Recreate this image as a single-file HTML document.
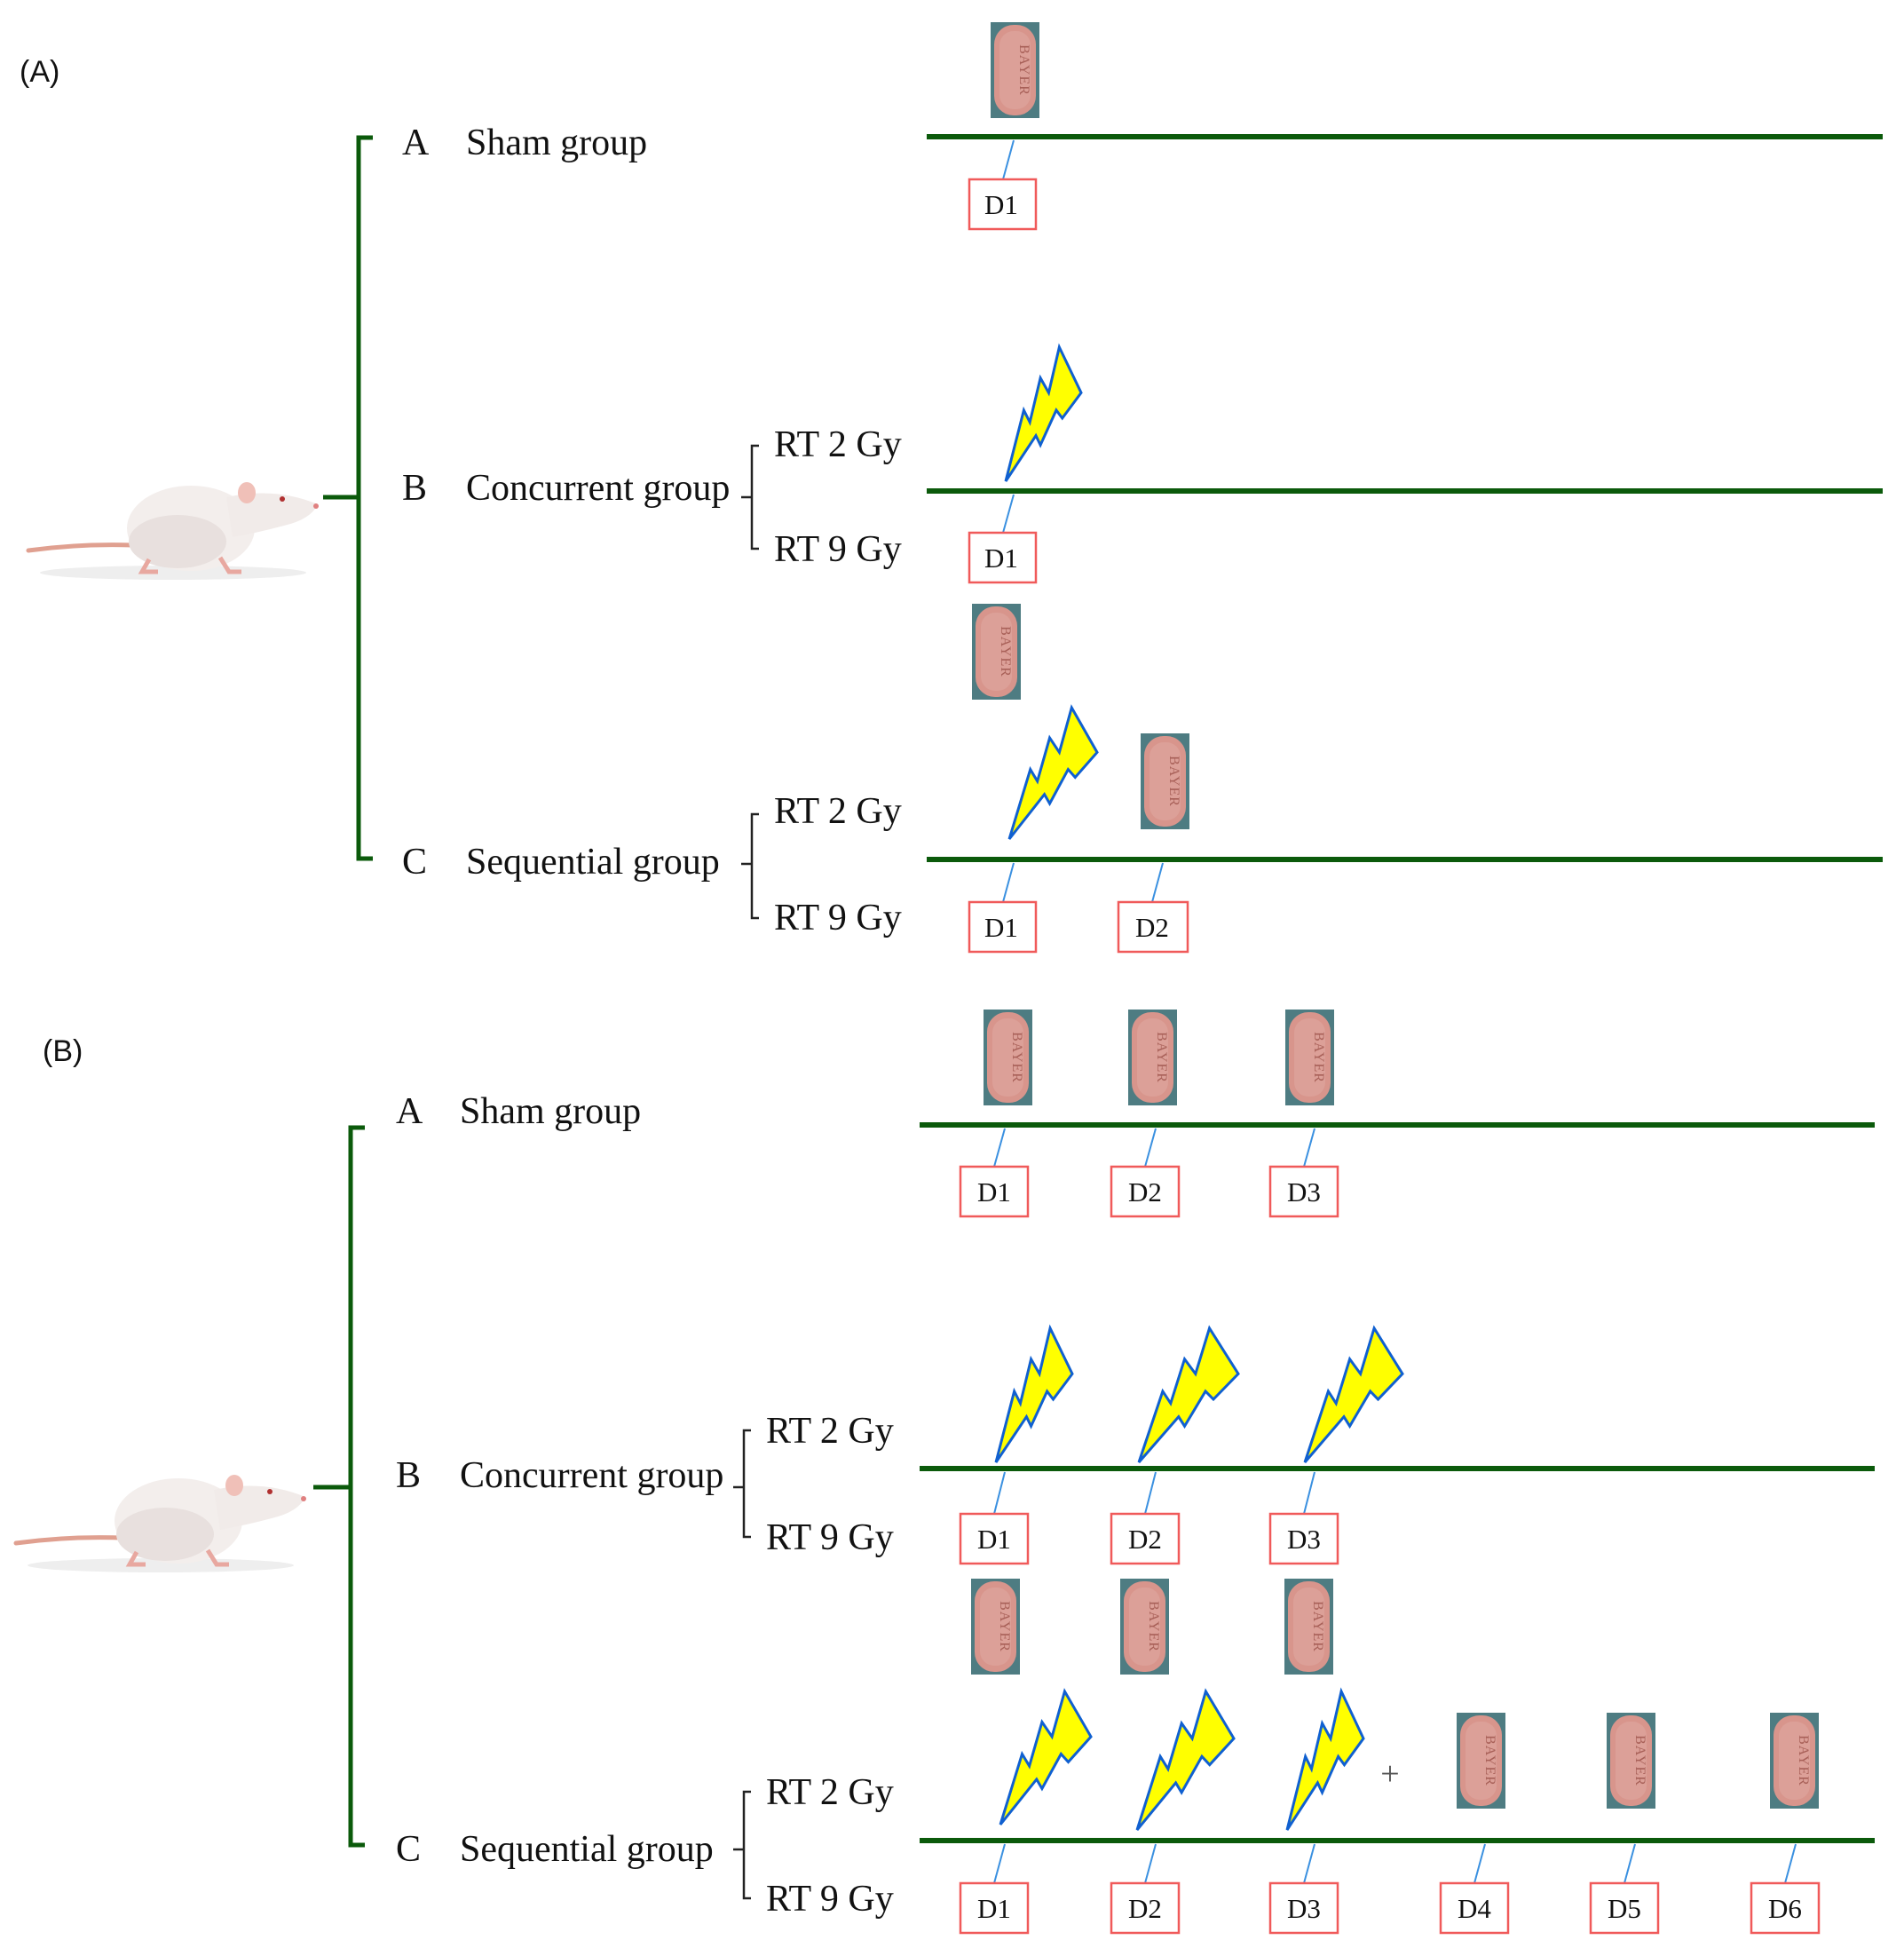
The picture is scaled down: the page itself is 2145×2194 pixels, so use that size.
<!DOCTYPE html>
<html><head><meta charset="utf-8"><style>
html,body{margin:0;padding:0;background:#fff;}
svg{display:block}
text{font-family:"Liberation Serif",serif;fill:#111}
.lbl{font-size:42px}
.dt{font-size:31px}
.pt{font-family:"Liberation Serif",serif;font-size:16px;fill:#a86058;letter-spacing:1px}
</style></head><body>
<svg width="2145" height="2194" viewBox="0 0 2145 2194" xmlns="http://www.w3.org/2000/svg">
<defs>
  <polygon id="bolt" points="0,1 0.24,0.47 0.32,0.56 0.46,0.23 0.57,0.34 0.71,0 1,0.34 0.75,0.53 0.67,0.47 0.46,0.73 0.40,0.66" fill="#ffff00" stroke="#1060d0" stroke-width="3" vector-effect="non-scaling-stroke" stroke-linejoin="miter"/>
  <g id="pill">
    <rect x="0" y="0" width="55" height="108" fill="#4e7c82"/>
    <rect x="4" y="3" width="47" height="102" rx="22" fill="#d8958c"/>
    <rect x="10" y="10" width="35" height="88" rx="16" fill="#dca098"/>
    <text class="pt" transform="translate(33,54) rotate(90)" text-anchor="middle">BAYER</text>
  </g>
  <g id="rat">
    <path d="M32,620 Q90,612 150,614" stroke="#e0a090" stroke-width="5" fill="none" stroke-linecap="round"/>
    <ellipse cx="195" cy="645" rx="150" ry="8" fill="#eee"/>
    <ellipse cx="215" cy="595" rx="72" ry="48" fill="#f3eeec"/>
    <ellipse cx="200" cy="610" rx="55" ry="30" fill="#e8e0de"/>
    <path d="M255,560 Q310,548 358,568 Q350,585 320,592 Q290,600 262,605 Z" fill="#f1ebe9"/>
    <ellipse cx="278" cy="555" rx="10" ry="12" fill="#f0c0b8"/>
    <circle cx="318" cy="562" r="3" fill="#b03030"/>
    <circle cx="356" cy="570" r="3" fill="#e08080"/>
    <path d="M168,630 l-8,14 h18 M248,628 l10,16 h14" stroke="#e8a8a0" stroke-width="5" fill="none"/>
  </g>
</defs>

<!-- ===== Panel A ===== -->
<text x="22" y="92" style="font-family:'Liberation Sans',sans-serif;font-size:34px">(A)</text>
<use href="#rat"/>
<path d="M420,155 H404 V967 H420 M364,560 H404" stroke="#0b5a0b" stroke-width="5" fill="none"/>
<text class="lbl" x="453" y="174">A</text><text class="lbl" x="525" y="174">Sham group</text>
<text class="lbl" x="453" y="563">B</text><text class="lbl" x="525" y="563">Concurrent group</text>
<text class="lbl" x="453" y="984">C</text><text class="lbl" x="525" y="984">Sequential group</text>
<path d="M855,502 H847 V618 H855 M835,560 H847" stroke="#222" stroke-width="2.5" fill="none"/>
<text class="lbl" x="872" y="514">RT 2 Gy</text><text class="lbl" x="872" y="632">RT 9 Gy</text>
<path d="M855,917 H847 V1034 H855 M835,973 H847" stroke="#222" stroke-width="2.5" fill="none"/>
<text class="lbl" x="872" y="927">RT 2 Gy</text><text class="lbl" x="872" y="1047">RT 9 Gy</text>

<g stroke="#0b5a0b" stroke-width="6"><line x1="1044" y1="154" x2="2121" y2="154"/><line x1="1044" y1="553" x2="2121" y2="553"/><line x1="1044" y1="968" x2="2121" y2="968"/></g>

<use href="#pill" x="1116" y="25"/>
<use href="#pill" x="1095" y="680"/>
<use href="#pill" x="1285" y="826"/>
<use href="#bolt" transform="translate(1133,391) scale(85,151)"/>
<use href="#bolt" transform="translate(1137,797) scale(99,148)"/>

<g stroke="#3a90e0" stroke-width="2">
<line x1="1142" y1="158" x2="1130" y2="202"/>
<line x1="1142" y1="557" x2="1130" y2="600"/>
<line x1="1142" y1="972" x2="1130" y2="1016"/>
<line x1="1310" y1="972" x2="1298" y2="1016"/>
</g>
<g fill="#fff" stroke="#f05a5a" stroke-width="2.5">
<rect x="1092" y="202" width="75" height="56"/>
<rect x="1092" y="600" width="75" height="56"/>
<rect x="1092" y="1016" width="75" height="56"/>
<rect x="1260" y="1016" width="78" height="56"/>
</g>
<g text-anchor="middle">
<text class="dt" x="1128" y="241">D1</text>
<text class="dt" x="1128" y="639">D1</text>
<text class="dt" x="1128" y="1055">D1</text>
<text class="dt" x="1298" y="1055">D2</text>
</g>

<!-- ===== Panel B ===== -->
<text x="48" y="1195" style="font-family:'Liberation Sans',sans-serif;font-size:34px">(B)</text>
<use href="#rat" transform="translate(-14,1118)"/>
<path d="M411,1270 H395 V2078 H411 M353,1675 H395" stroke="#0b5a0b" stroke-width="5" fill="none"/>
<text class="lbl" x="446" y="1265">A</text><text class="lbl" x="518" y="1265">Sham group</text>
<text class="lbl" x="446" y="1675">B</text><text class="lbl" x="518" y="1675">Concurrent group</text>
<text class="lbl" x="446" y="2096">C</text><text class="lbl" x="518" y="2096">Sequential group</text>
<path d="M846,1611 H838 V1731 H846 M826,1675 H838" stroke="#222" stroke-width="2.5" fill="none"/>
<text class="lbl" x="863" y="1625">RT 2 Gy</text><text class="lbl" x="863" y="1745">RT 9 Gy</text>
<path d="M846,2018 H838 V2138 H846 M826,2083 H838" stroke="#222" stroke-width="2.5" fill="none"/>
<text class="lbl" x="863" y="2032">RT 2 Gy</text><text class="lbl" x="863" y="2152">RT 9 Gy</text>

<g stroke="#0b5a0b" stroke-width="6"><line x1="1036" y1="1267" x2="2112" y2="1267"/><line x1="1036" y1="1654" x2="2112" y2="1654"/><line x1="1036" y1="2073" x2="2112" y2="2073"/></g>

<use href="#pill" x="1108" y="1137"/><use href="#pill" x="1271" y="1137"/><use href="#pill" x="1448" y="1137"/>
<use href="#pill" x="1094" y="1778"/><use href="#pill" x="1262" y="1778"/><use href="#pill" x="1447" y="1778"/>
<use href="#pill" x="1641" y="1929"/><use href="#pill" x="1810" y="1929"/><use href="#pill" x="1994" y="1929"/>

<use href="#bolt" transform="translate(1122,1496) scale(86,151)"/>
<use href="#bolt" transform="translate(1283,1496) scale(112,151)"/>
<use href="#bolt" transform="translate(1470,1496) scale(110,151)"/>
<use href="#bolt" transform="translate(1127,1905) scale(102,150)"/>
<use href="#bolt" transform="translate(1281,1905) scale(109,156)"/>
<use href="#bolt" transform="translate(1450,1905) scale(86,156)"/>
<text x="1566" y="2010" text-anchor="middle" style="font-size:38px;fill:#555">+</text>

<g stroke="#3a90e0" stroke-width="2">
<line x1="1132" y1="1271" x2="1120" y2="1314"/><line x1="1302" y1="1271" x2="1290" y2="1314"/><line x1="1481" y1="1271" x2="1469" y2="1314"/>
<line x1="1132" y1="1658" x2="1120" y2="1705"/><line x1="1302" y1="1658" x2="1290" y2="1705"/><line x1="1481" y1="1658" x2="1469" y2="1705"/>
<line x1="1132" y1="2077" x2="1120" y2="2121"/><line x1="1302" y1="2077" x2="1290" y2="2121"/><line x1="1481" y1="2077" x2="1469" y2="2121"/>
<line x1="1673" y1="2077" x2="1661" y2="2121"/><line x1="1842" y1="2077" x2="1830" y2="2121"/><line x1="2023" y1="2077" x2="2011" y2="2121"/>
</g>
<g fill="#fff" stroke="#f05a5a" stroke-width="2.5">
<rect x="1082" y="1314" width="76" height="56"/><rect x="1252" y="1314" width="76" height="56"/><rect x="1431" y="1314" width="76" height="56"/>
<rect x="1082" y="1705" width="76" height="56"/><rect x="1252" y="1705" width="76" height="56"/><rect x="1431" y="1705" width="76" height="56"/>
<rect x="1082" y="2121" width="76" height="56"/><rect x="1252" y="2121" width="76" height="56"/><rect x="1431" y="2121" width="76" height="56"/>
<rect x="1623" y="2121" width="76" height="56"/><rect x="1792" y="2121" width="76" height="56"/><rect x="1973" y="2121" width="76" height="56"/>
</g>
<g text-anchor="middle">
<text class="dt" x="1120" y="1353">D1</text><text class="dt" x="1290" y="1353">D2</text><text class="dt" x="1469" y="1353">D3</text>
<text class="dt" x="1120" y="1744">D1</text><text class="dt" x="1290" y="1744">D2</text><text class="dt" x="1469" y="1744">D3</text>
<text class="dt" x="1120" y="2160">D1</text><text class="dt" x="1290" y="2160">D2</text><text class="dt" x="1469" y="2160">D3</text>
<text class="dt" x="1661" y="2160">D4</text><text class="dt" x="1830" y="2160">D5</text><text class="dt" x="2011" y="2160">D6</text>
</g>
</svg>
</body></html>
